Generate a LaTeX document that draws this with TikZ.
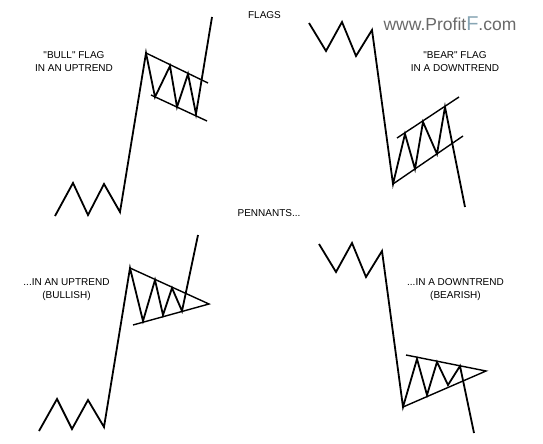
\documentclass[tikz,border=0pt]{standalone}
\usepackage{fontspec}
\setmainfont{Liberation Sans}
\usetikzlibrary{positioning}
\definecolor{wmgray}{RGB}{105,105,105}
\definecolor{wmblue}{RGB}{135,165,180}

\begin{document}
\begin{tikzpicture}[x=1pt,y=-1pt,
    price/.style={line width=1.8pt,line join=miter},
    bound/.style={line width=1.4pt},
    lbl/.style={font=\fontsize{10}{13}\selectfont,align=center,inner sep=0pt}]
    \useasboundingbox (0,0) rectangle (543,444);

    % titles and captions
    \node[lbl] (flagsttl) at (264.5,15) {FLAGS};
    \node[lbl] (pennttl) at (269,213) {PENNANTS...};
    \node[lbl] (bullflag) at (74,61.5) {\textquotedbl BULL\textquotedbl{} FLAG\\IN AN UPTREND};
    \node[lbl] (bearflag) at (455,61.5) {\textquotedbl BEAR\textquotedbl{} FLAG\\IN A DOWNTREND};
    \node[lbl] (bullpenn) at (66.5,290) {...IN AN UPTREND\\(BULLISH)};
    \node[lbl] (bearpenn) at (455.5,289.5) {...IN A DOWNTREND\\(BEARISH)};
    \node[font=\fontsize{17.5}{20}\selectfont,text=wmgray,inner sep=0pt] (wmark) at (450,24)
      {www.Profit{\color{wmblue}\fontsize{20}{20}\selectfont F}.com};

    % bull flag
    \draw[price] (55,216) -- (73,183) -- (88,215) -- (104,184) -- (120,212) -- (146,53)
      -- (155,97) -- (170,66) -- (177,107) -- (188,74) -- (196,114) -- (212,17);
    \draw[bound] (146,53) -- (208,83);
    \draw[bound] (151,95) -- (207,121);

    % bear flag
    \draw[price] (309,23) -- (326,51) -- (342,22) -- (356,56) -- (372,30) -- (393,184)
      -- (405,134) -- (415,169) -- (423,122) -- (437,154) -- (445,107) -- (465,207);
    \draw[bound] (397,138) -- (459,97);
    \draw[bound] (393,184) -- (463,136);

    % bull pennant
    \draw[price] (39,431) -- (57,399) -- (72,429) -- (88,400) -- (104,427) -- (130,268)
      -- (143,321) -- (155,280) -- (163,315) -- (172,288) -- (182,311) -- (198,235);
    \draw[bound] (130,268) -- (209,304) -- (133,325);

    % bear pennant
    \draw[price] (319,244) -- (336,272) -- (352,243) -- (366,277) -- (382,251) -- (403,407)
      -- (417,359) -- (427,395) -- (437,362) -- (448,385) -- (460,366) -- (474,433);
    \draw[bound] (406,355) -- (486,371) -- (403,407);
\end{tikzpicture}
\end{document}
